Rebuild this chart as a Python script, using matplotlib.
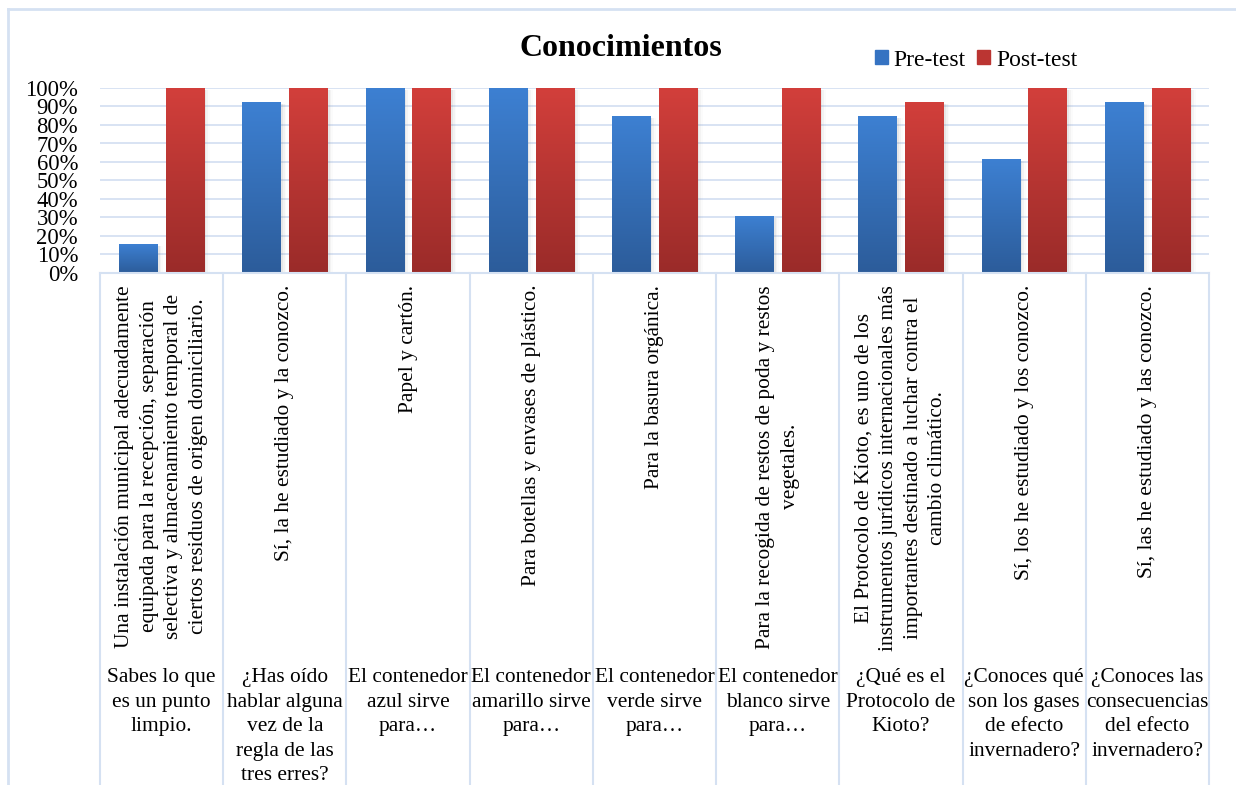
import numpy as np
import matplotlib
matplotlib.use("Agg")
import matplotlib.pyplot as plt
import matplotlib.transforms as mtransforms
from matplotlib.colors import LinearSegmentedColormap
from matplotlib.patches import Patch, Rectangle
from matplotlib.lines import Line2D

# data
pre_test = [15.4, 92.3, 100, 100, 84.6, 30.8, 84.6, 61.5, 92.3]
post_test = [100, 100, 100, 100, 100, 100, 92.3, 100, 100]
inner_labels = [
    "Una instalación municipal adecuadamente\nequipada para la recepción, separación\n"
    "selectiva y almacenamiento temporal de\nciertos residuos de origen domiciliario.",
    "Sí, la he estudiado y la conozco.",
    "Papel y cartón.",
    "Para botellas y envases de plástico.",
    "Para la basura orgánica.",
    "Para la recogida de restos de poda y restos\nvegetales.",
    "El Protocolo de Kioto, es uno de los\ninstrumentos jurídicos internacionales más\n"
    "importantes destinado a luchar contra el\ncambio climático.",
    "Sí, los he estudiado y los conozco.",
    "Sí, las he estudiado y las conozco.",
]
outer_labels = [
    "Sabes lo que\nes un punto\nlimpio.",
    "¿Has oído\nhablar alguna\nvez de la\nregla de las\ntres erres?",
    "El contenedor\nazul sirve\npara…",
    "El contenedor\namarillo sirve\npara…",
    "El contenedor\nverde sirve\npara…",
    "El contenedor\nblanco sirve\npara…",
    "¿Qué es el\nProtocolo de\nKioto?",
    "¿Conoces qué\nson los gases\nde efecto\ninvernadero?",
    "¿Conoces las\nconsecuencias\ndel efecto\ninvernadero?",
]
series_names = ["Pre-test", "Post-test"]

plt.rcParams['font.family'] = ['Liberation Serif', 'DejaVu Serif']
W, H = 1236, 785
fig = plt.figure(figsize=(W / 100, H / 100), dpi=100)
ax = fig.add_axes([100 / W, 1 - 273 / H, 1109 / W, 185 / H])

line_col = '#D5E1F2'
blue_cmap = LinearSegmentedColormap.from_list('b', ['#2C5C9A', '#3D80D2'])
red_cmap = LinearSegmentedColormap.from_list('r', ['#9A2B29', '#D23F3B'])

x = np.arange(len(pre_test))
width = 0.31
offs = 0.19
grad = np.linspace(0, 1, 256).reshape(-1, 1)

for vals, off, cmap in [(pre_test, -offs, blue_cmap), (post_test, offs, red_cmap)]:
    bars = ax.bar(x + off, vals, width, color='none', zorder=3)
    for b in bars:
        x0, w, h = b.get_x(), b.get_width(), b.get_height()
        # soft shadow
        for k, a in [(0.012, 0.10), (0.022, 0.06), (0.032, 0.03)]:
            ax.add_patch(Rectangle((x0 + k * 0.5, -1.2), w + k, h + 0.3, color='gray',
                                   alpha=a, lw=0, zorder=2))
        ax.imshow(grad, extent=[x0, x0 + w, 0, h], origin='lower', aspect='auto',
                  cmap=cmap, zorder=4)

ax.set_xlim(-0.5, len(pre_test) - 0.5)
ax.set_ylim(0, 100)
ax.set_yticks(np.arange(0, 101, 10))
ax.set_yticklabels([f"{v}%" for v in range(0, 101, 10)], fontsize=16.3)
ax.tick_params(axis='y', length=0, pad=15.8)
ax.set_xticks([])
for s in ax.spines.values():
    s.set_visible(False)
for v in range(10, 101, 10):
    ax.axhline(v, color=line_col, lw=1.3, zorder=1)

# category axis: lines and two-level labels
tr = mtransforms.blended_transform_factory(ax.transData, fig.transFigure)
y_axis = 1 - 273 / H
fig.add_artist(Line2D([-0.5, len(x) - 0.5], [y_axis, y_axis], transform=tr,
                      color=line_col, lw=1.5))
for b in np.arange(-0.5, len(x), 1.0):
    fig.add_artist(Line2D([b, b], [y_axis, 0], transform=tr, color=line_col, lw=1.5))

for i in x:
    fig.text(i, 1 - 285 / H, inner_labels[i], transform=tr, rotation=90,
             ha='center', va='top', multialignment='center', fontsize=15.4,
             linespacing=1.4)
    fig.text(i, 1 - 668 / H, outer_labels[i], transform=tr,
             ha='center', va='top', multialignment='center', fontsize=15.4,
             linespacing=1.4)

# outer chart border
fig.add_artist(Line2D([7.5 / W, 7.5 / W], [0, 1 - 8.5 / H], color=line_col, lw=2))
fig.add_artist(Line2D([7.5 / W, 1], [1 - 8.5 / H, 1 - 8.5 / H], color=line_col, lw=2))

fig.text(621 / W, 1 - 49 / H, "Conocimientos", ha='center', va='center',
         fontsize=23, fontweight='bold')

handles = [Patch(color='#3573C2'), Patch(color='#BB3532')]
fig.legend(handles, series_names, loc='center', bbox_to_anchor=(976 / W, 1 - 60 / H),
           ncol=2, frameon=False, fontsize=17, handlelength=0.55, handleheight=0.55,
           handletextpad=0.25, columnspacing=0.5, borderpad=0)

fig.savefig("out.png", dpi=100)
